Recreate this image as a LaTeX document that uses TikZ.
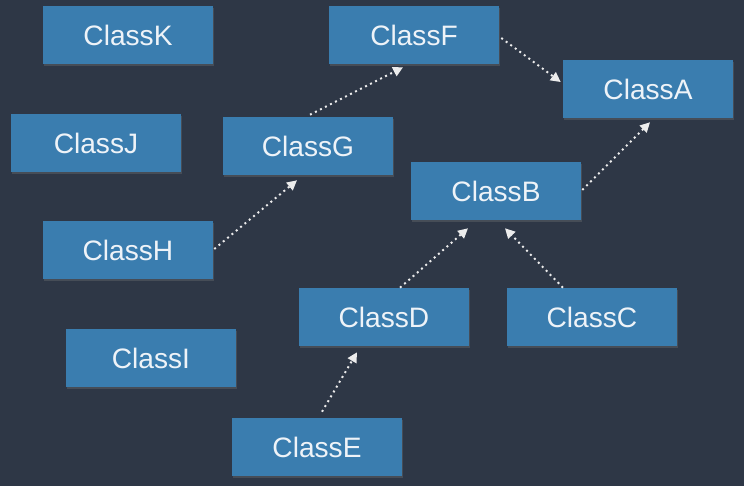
\documentclass[tikz,border=0pt]{standalone}
\usepackage{fontspec}
\setmainfont{Liberation Sans}
\usepackage{tikz}
\usetikzlibrary{arrows.meta, calc, shadows}
\definecolor{SlateBg}{HTML}{2E3746}
\definecolor{ClassBlue}{HTML}{3A7DAF}
\definecolor{ClassText}{HTML}{EEF3F8}
\tikzset{
  classbox/.style={rectangle, draw=none, fill=ClassBlue, text=ClassText, minimum width=4.25cm, minimum height=1.45cm, font=\fontsize{20}{23}\selectfont, inner sep=0pt, drop shadow={shadow xshift=1pt, shadow yshift=-1.5pt, opacity=0.3}},
  inherit/.style={-{Triangle[width=7pt,length=7pt]}, white!85!gray, line width=1.4pt, dash pattern=on 1.4pt off 2.6pt}
}
\begin{document}
\begin{tikzpicture}[x=0.025cm, y=-0.025cm]
  \fill[SlateBg] (0,0) rectangle (744,486);
  \useasboundingbox (0,0) rectangle (744,486);

  % classes
  \node[classbox] (K) at (128,35) {ClassK};
  \node[classbox] (F) at (414,35) {ClassF};
  \node[classbox] (A) at (648,89) {ClassA};
  \node[classbox] (J) at (96,143) {ClassJ};
  \node[classbox] (G) at (308,146) {ClassG};
  \node[classbox] (B) at (496,191) {ClassB};
  \node[classbox] (H) at (128,250) {ClassH};
  \node[classbox] (D) at (384,317) {ClassD};
  \node[classbox] (C) at (592,317) {ClassC};
  \node[classbox] (I) at (151,358) {ClassI};
  \node[classbox] (E) at (317,447) {ClassE};

  % inheritance
  \draw[inherit] ($(F.east)+(2,3)$) -- ($(A.west)+(-2,-7)$);
  \draw[inherit] ($(G.north)+(2,-2)$) -- ($(F.south)+(-11,3)$);
  \draw[inherit] ($(H.east)+(1,-1)$) -- ($(G.south)+(-11,5)$);
  \draw[inherit] ($(B.east)+(1,-1)$) -- ($(A.south)+(2,4)$);
  \draw[inherit] ($(D.north)+(16,0)$) -- ($(B.south)+(-28,8)$);
  \draw[inherit] ($(C.north)+(-29,0)$) -- ($(B.south)+(9,8)$);
  \draw[inherit] ($(E.north)+(5,-6)$) -- ($(D.south)+(-27,6)$);
\end{tikzpicture}
\end{document}
